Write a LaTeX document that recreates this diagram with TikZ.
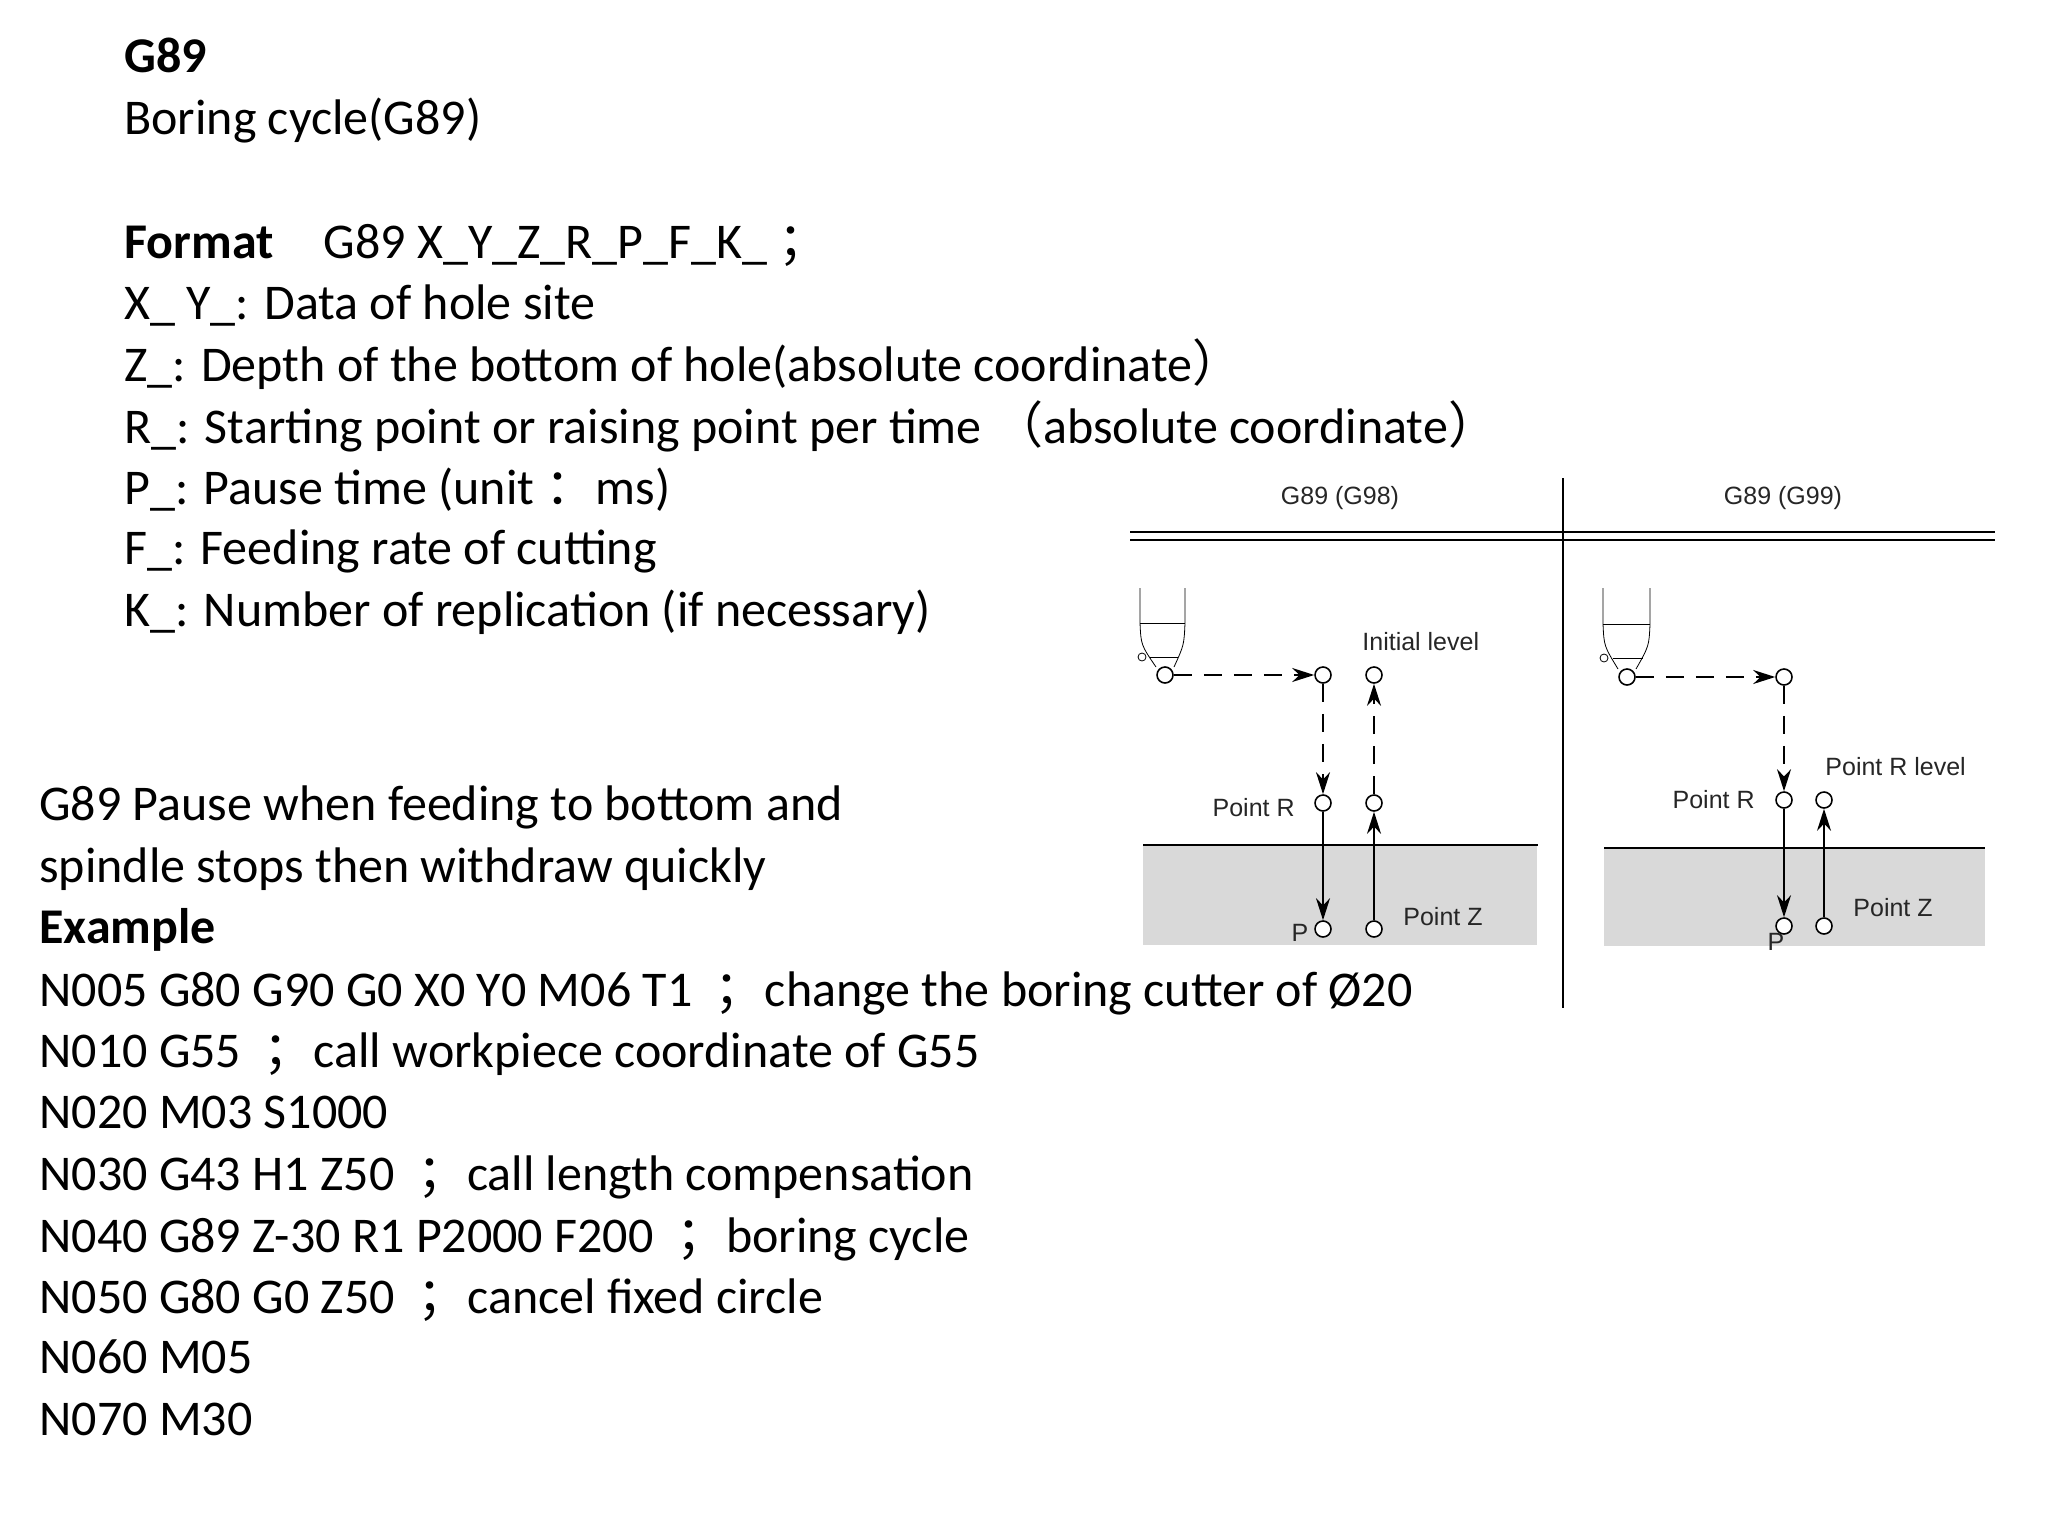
\documentclass[tikz,border=0pt]{standalone}
\usepackage{fontspec}
\setmainfont{Carlito}
\newfontfamily\cjk{Noto Sans CJK SC}
\newfontfamily\arial{Liberation Sans}
\usetikzlibrary{arrows.meta}
\begin{document}
\begin{tikzpicture}[x=0.5pt,y=-0.5pt,
  txt/.style={anchor=base west,inner sep=0pt,font=\fontsize{25pt}{28pt}\selectfont},
  lab/.style={inner sep=0pt,font=\arial\fontsize{12.5pt}{14pt}\selectfont,text=black!85},
  pt/.style={circle,draw,thick,minimum size=8pt,inner sep=0pt,fill=white},
  arr/.style={thick,-{Stealth[length=11pt,width=7pt]}},
  dsh/.style={arr,dash pattern=on 9pt off 6pt}]
\useasboundingbox (0,0) rectangle (2048,1536);
% text
\node[txt] (t1) at (124,73) {\textbf{G89}};
\node[txt] (t2) at (124,134) {Boring cycle(G89)};
\node[txt] (t3) at (124,258) {\textbf{Format}\quad G89 X\_Y\_Z\_R\_P\_F\_K\_ {\cjk ；}};
\node[txt] (t4) at (124,319) {X\_ Y\_: Data of hole site};
\node[txt] (t5) at (124,381) {Z\_: Depth of the bottom of hole(absolute coordinate{\cjk ）}};
\node[txt] (t6) at (124,443) {R\_: Starting point or raising point per time {\cjk （}absolute coordinate{\cjk ）}};
\node[txt] (t7) at (124,504) {P\_: Pause time (unit {\cjk ：}ms)};
\node[txt] (t8) at (124,564) {F\_: Feeding rate of cutting};
\node[txt] (t9) at (124,626) {K\_: Number of replication (if necessary)};
\node[txt] (u1) at (39,820) {G89 Pause when feeding to bottom and};
\node[txt] (u2) at (39,882) {spindle stops then withdraw quickly};
\node[txt] (u3) at (39,943) {\textbf{Example}};
\node[txt] (u4) at (39,1006) {N005 G80 G90 G0 X0 Y0 M06 T1 \ {\cjk ；}change the boring cutter of Ø20};
\node[txt] (u5) at (39,1067) {N010 G55 \ {\cjk ；}call workpiece coordinate of G55};
\node[txt] (u6) at (39,1128) {N020 M03 S1000};
\node[txt] (u7) at (39,1190) {N030 G43 H1 Z50 \ {\cjk ；}call length compensation};
\node[txt] (u8) at (39,1252) {N040 G89 Z-30 R1 P2000 F200 \ {\cjk ；}boring cycle};
\node[txt] (u9) at (39,1313) {N050 G80 G0 Z50 \ {\cjk ；}cancel fixed circle};
\node[txt] (u10) at (39,1373) {N060 M05};
\node[txt] (u11) at (39,1435) {N070 M30};
% table frame
\draw[thick] (1130,532) -- (1995,532);
\draw[thick] (1130,540) -- (1995,540);
\draw[thick] (1563,478) -- (1563,1008);
\node[lab] (h1) at (1340,498) {G89 (G98)};
\node[lab] (h2) at (1783,498) {G89 (G99)};
% workpieces
\fill[black!15] (1143,845) rectangle (1537,945);
\draw[thick] (1143,845) -- (1538,845);
\fill[black!15] (1604,848) rectangle (1985,946);
\draw[thick] (1604,848) -- (1985,848);
% left tool
\draw (1140,588) -- (1140,623) .. controls (1141,645) .. (1156,667);
\draw (1185,588) -- (1185,623) .. controls (1184,645) .. (1174,667);
\draw (1140,623) -- (1185,623);
\draw (1150,657) -- (1178,657);
\draw (1142,657) circle (4);
\node[pt] (a0) at (1165,675) {};
\node[pt] (a1) at (1323,675) {};
\node[pt] (a2) at (1323,803) {};
\node[pt] (a3) at (1323,929) {};
\node[pt] (b1) at (1374,675) {};
\node[pt] (b2) at (1374,803) {};
\node[pt] (b3) at (1374,929) {};
\draw[dsh] (a0) -- (a1);
\draw[dsh] (a1) -- (a2);
\draw[arr] (a2) -- (a3);
\draw[arr] (b3) -- (b2);
\draw[dsh] (b2) -- (b1);
\node[lab,anchor=west] (il) at (1362,642) {Initial level};
\node[lab,anchor=east] (pr1) at (1295,808) {Point R};
\node[lab] (p1) at (1300,933) {P};
\node[lab,anchor=west] (pz1) at (1403,917) {Point Z};
% right tool
\draw (1603,588) -- (1603,624) .. controls (1604,646) .. (1618,669);
\draw (1650,588) -- (1650,624) .. controls (1649,646) .. (1636,669);
\draw (1603,624) -- (1650,624);
\draw (1613,658) -- (1643,658);
\draw (1604,658) circle (4);
\node[pt] (c0) at (1627,677) {};
\node[pt] (c1) at (1784,677) {};
\node[pt] (c2) at (1784,800) {};
\node[pt] (c3) at (1784,926) {};
\node[pt] (d2) at (1824,800) {};
\node[pt] (d3) at (1824,926) {};
\draw[dsh] (c0) -- (c1);
\draw[dsh] (c1) -- (c2);
\draw[arr] (c2) -- (c3);
\draw[arr] (d3) -- (d2);
\node[lab,anchor=west] (rl) at (1825,767) {Point R level};
\node[lab,anchor=east] (pr2) at (1755,800) {Point R};
\node[lab] (p2) at (1776,942) {P};
\node[lab,anchor=west] (pz2) at (1853,908) {Point Z};
\end{tikzpicture}
\end{document}
